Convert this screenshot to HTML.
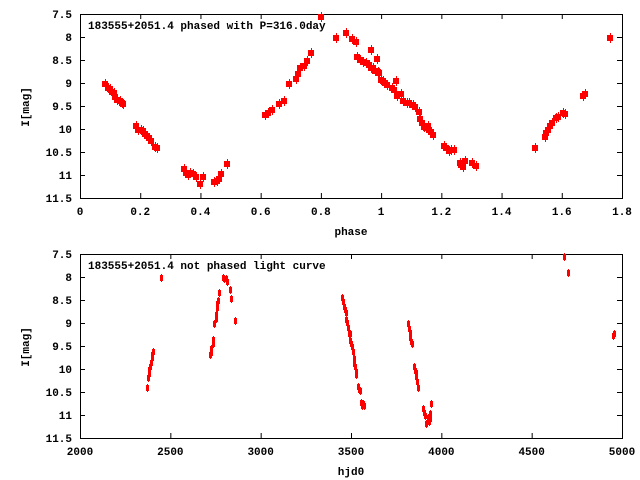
<!DOCTYPE html>
<html><head><meta charset="utf-8"><style>
html,body{margin:0;padding:0;background:#fff;}
svg{display:block;}
text{font-family:"Liberation Mono",monospace;font-weight:bold;font-size:11px;fill:#000;}
</style></head><body>
<svg id="s" width="640" height="480" xmlns="http://www.w3.org/2000/svg"></svg>
<script>
(function(){
var s=document.getElementById('s'),h='';
function frame(t,xlabels,title,xlab){
 var b=t+184,L=80,R=622;
 h+='<rect x="'+L+'.5" y="'+t+'.5" width="'+(R-L)+'" height="'+(b-t)+'" fill="none" stroke="#000" stroke-width="1"/>';
 var yl=['7.5','8','8.5','9','9.5','10','10.5','11','11.5'];
 for(var i=0;i<9;i++){var y=t+i*23;
  h+='<line x1="'+L+'" y1="'+(y+.5)+'" x2="'+(L+5)+'" y2="'+(y+.5)+'" stroke="#000"/>';
  h+='<line x1="'+(R-5)+'" y1="'+(y+.5)+'" x2="'+R+'" y2="'+(y+.5)+'" stroke="#000"/>';
  h+='<text x="72" y="'+(y+4)+'" text-anchor="end">'+yl[i]+'</text>';}
 var n=xlabels.length-1;
 for(var i=0;i<=n;i++){var x=L+i*(R-L)/n;
  h+='<line x1="'+(x+.5)+'" y1="'+t+'" x2="'+(x+.5)+'" y2="'+(t+5)+'" stroke="#000"/>';
  h+='<line x1="'+(x+.5)+'" y1="'+(b-5)+'" x2="'+(x+.5)+'" y2="'+b+'" stroke="#000"/>';
  h+='<text x="'+x+'" y="'+(b+17)+'" text-anchor="middle">'+xlabels[i]+'</text>';}
 h+='<text x="88" y="'+(t+15)+'">'+title+'</text>';
 h+='<text x="351" y="'+(b+37)+'" text-anchor="middle">'+xlab+'</text>';
 h+='<text transform="translate(29,'+(t+93)+') rotate(-90)" text-anchor="middle">I[mag]</text>';
}
frame(14,['0','0.2','0.4','0.6','0.8','1','1.2','1.4','1.6','1.8'],'183555+2051.4 phased with P=316.0day','phase');
frame(254,['2000','2500','3000','3500','4000','4500','5000'],'183555+2051.4 not phased light curve','hjd0');
var ptsA=[[105,84],[108,88],[110,89],[112,92],[114,93],[115,97],[117,100],[120,101],[122,103],[123,104],[136,126],[138,130],[141,130],[143,131],[145,134],[147,136],[149,138],[151,141],[155,147],[157,148],[184,169],[186,173],[188,175],[190,173],[193,174],[196,177],[200,184],[203,177],[214,182],[217,181],[219,179],[221,174],[227,164],[265,115],[268,113],[272,110],[279,104],[284,101],[289,84],[296,79],[298,74],[300,68],[304,66],[307,61],[311,53],
[321,17],[336,38],[346,33],[352,39],[356,42],[371,50],[377,59],[357,57],[360,60],[363,62],[366,63],[369,65],[371,68],[373,68],[375,71],[378,72],[379,73],[381,80],[383,81],[385,83],[387,85],[392,88],[394,90],[396,81],[397,96],[401,94],[403,101],[407,103],[409,103],[413,105],[415,107],[419,112],[420,119],[422,123],[424,127],[426,128],[428,126],[429,130],[431,132],[433,135],[444,146],[446,148],[449,151],[451,150],[454,150],[460,163],[461,165],[463,167],[465,161],[472,163],[476,166],[535,148],[545,137],[546,133],[548,130],[550,126],[552,123],[556,118],[558,117],[563,113],[565,114],[583,96],[585,94],[610,38]];
ptsA.forEach(function(p){h+='<rect x="'+(p[0]-3)+'" y="'+(p[1]-3)+'" width="6" height="6" fill="#f00"/><rect x="'+p[0]+'" y="'+(p[1]-5)+'" width="1" height="10" fill="#f00"/>';});
var ptsB=[[147,388],[148,378],[149,374],[149,370],[150,367],[151,363],[152,358],[152,355],[153,352],[161,278],
[210,355],[211,353],[211,349],[213,344],[213,340],[214,324],[216,319],[216,315],[217,308],[217,304],[218,301],[219,293],[223,278],[224,279],[226,279],[227,282],[230,290],[231,299],[235,321],
[342,298],[343,302],[344,307],[345,310],[346,313],[346,320],[347,323],[348,328],[349,334],[350,334],[350,341],[351,344],[352,347],[353,352],[354,359],[354,364],[355,367],[356,372],[356,375],[358,387],[359,390],[360,391],[361,403],[362,406],[363,404],[364,406],
[408,324],[409,329],[410,333],[410,338],[411,342],[412,344],[414,367],[415,371],[416,373],[416,377],[417,382],[418,388],[423,409],[424,413],[425,416],[426,424],[428,418],[429,422],[430,414],[430,419],[431,404],
[564,257],[568,273],[613,336],[614,334]];
ptsB.forEach(function(p){h+='<rect x="'+(p[0]-1)+'" y="'+(p[1]-3)+'" width="3" height="6" fill="#f00"/><rect x="'+p[0]+'" y="'+(p[1]-4)+'" width="1" height="8" fill="#f00"/>';});
s.innerHTML=h;
})();
</script>
</body></html>
